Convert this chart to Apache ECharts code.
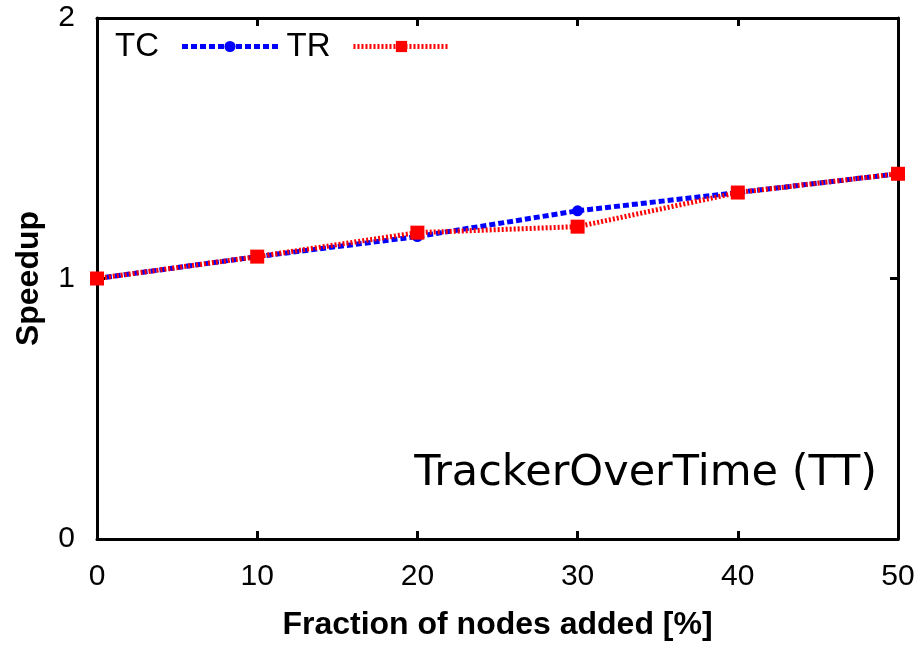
<!DOCTYPE html>
<html>
<head>
<meta charset="utf-8">
<script src="https://cdn.jsdelivr.net/npm/echarts@6/dist/echarts.min.js"></script>
<style>
  html, body { margin: 0; padding: 0; background: #fff; }
  #main { width: 918px; height: 646px; }
</style>
</head>
<body>
<div id="main"></div>
<script>
// values
var fractions = [0, 10, 20, 30, 40, 50];
var tcSpeedup = [1.0, 1.084, 1.161, 1.26, 1.33, 1.402];
var trSpeedup = [1.0, 1.084, 1.176, 1.199, 1.33, 1.402];

var chart = echarts.init(document.getElementById('main'));

function pairs(xs, ys) {
    return xs.map(function (x, i) { return [x, ys[i]]; });
}

var axisFont = 'Liberation Sans, Arial, sans-serif';
var frame = { color: '#000', width: 3 };

chart.setOption({
    animation: false,
    backgroundColor: '#fff',
    grid: { left: 97, right: 20, top: 18, bottom: 106, containLabel: false },
    title: {
        text: 'TrackerOverTime (TT)',
        right: 36, top: 447,
        textStyle: { fontFamily: 'DejaVu Sans', fontWeight: 'normal', fontSize: 43, color: '#000' }
    },
    legend: {
        left: 110, top: 25,
        align: 'right',
        itemWidth: 96, itemHeight: 14, itemGap: 6,
        lineStyle: { width: 5 },
        textStyle: { fontFamily: axisFont, fontSize: 33, color: '#000', padding: [0, 18, 0, 0] },
        data: ['TC', 'TR']
    },
    xAxis: [{
        type: 'value', min: 0, max: 50, interval: 10,
        name: 'Fraction of nodes added [%]',
        nameLocation: 'middle', nameGap: 70, nameMoveOverlap: false,
        nameTextStyle: { fontFamily: axisFont, fontWeight: 'bold', fontSize: 32, color: '#000' },
        axisLine: { onZero: false, lineStyle: frame },
        axisTick: { inside: true, length: 8, lineStyle: frame },
        axisLabel: { fontFamily: axisFont, fontSize: 30, color: '#000', margin: 23 },
        splitLine: { show: false }
    }, {
        type: 'value', min: 0, max: 50, interval: 10, position: 'top',
        axisLine: { onZero: false, lineStyle: frame },
        axisTick: { inside: true, length: 8, lineStyle: frame },
        axisLabel: { show: false },
        splitLine: { show: false }
    }],
    yAxis: [{
        type: 'value', min: 0, max: 2, interval: 1,
        name: 'Speedup',
        nameLocation: 'middle', nameGap: 52, nameRotate: 90, nameMoveOverlap: false,
        nameTextStyle: { fontFamily: axisFont, fontWeight: 'bold', fontSize: 32, color: '#000' },
        axisLine: { show: true, onZero: false, lineStyle: frame },
        axisTick: { show: true, inside: true, length: 8, lineStyle: frame },
        axisLabel: { fontFamily: axisFont, fontSize: 30, color: '#000', margin: 22 },
        splitLine: { show: false }
    }, {
        type: 'value', min: 0, max: 2, interval: 1, position: 'right',
        axisLine: { show: true, onZero: false, lineStyle: frame },
        axisTick: { show: true, inside: true, length: 8, lineStyle: frame },
        axisLabel: { show: false },
        splitLine: { show: false }
    }],
    series: [{
        name: 'TC',
        type: 'line',
        data: pairs(fractions, tcSpeedup),
        symbol: 'circle', symbolSize: 11,
        itemStyle: { color: '#0000ff' },
        lineStyle: { color: '#0000ff', width: 5, type: [6, 3] }
    }, {
        name: 'TR',
        type: 'line',
        data: pairs(fractions, trSpeedup),
        symbol: 'rect', symbolSize: 14,
        itemStyle: { color: '#ff0000' },
        lineStyle: { color: '#ff0000', width: 5, type: [2, 2] }
    }]
});
</script>
</body>
</html>
